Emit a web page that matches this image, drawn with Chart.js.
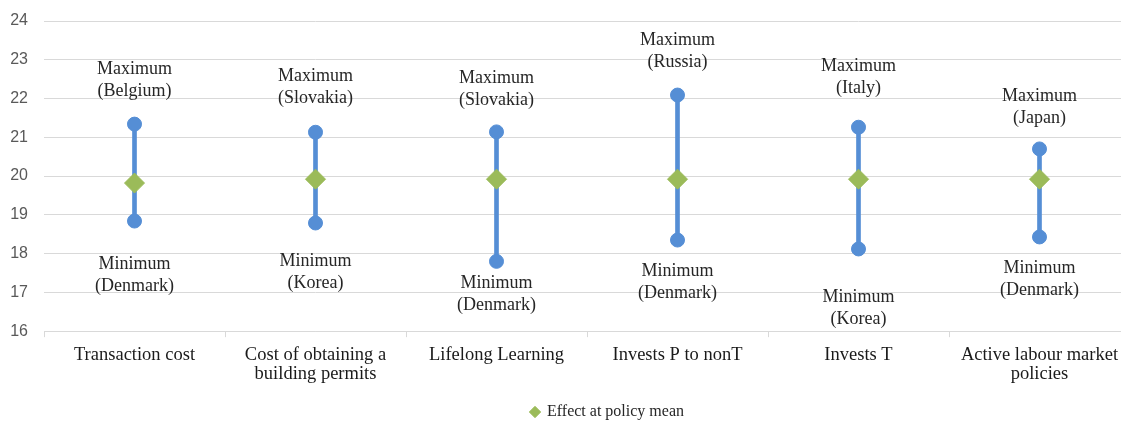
<!DOCTYPE html>
<html>
<head>
<meta charset="utf-8">
<script src="https://cdn.jsdelivr.net/npm/chart.js@4"></script>
<style>
  html, body { margin: 0; padding: 0; background: #fff; overflow: hidden; }
  #wrap { width: 1141px; height: 422px; }
</style>
</head>
<body>
<div id="wrap"><canvas id="rangeChart"></canvas></div>
<script>
const categories = [
  'Transaction cost',
  ['Cost of obtaining a', 'building permits'],
  'Lifelong Learning',
  'Invests P to nonT',
  'Invests T',
  ['Active labour market', 'policies']
];
const maxValues = [21.34, 21.13, 21.14, 22.09, 21.26, 20.70];
const minValues = [18.84, 18.79, 17.80, 18.35, 18.12, 18.43];
const meanValues = [19.82, 19.92, 19.92, 19.92, 19.92, 19.92];
const maxCountries = ['Belgium', 'Slovakia', 'Slovakia', 'Russia', 'Italy', 'Japan'];
const minCountries = ['Denmark', 'Korea', 'Denmark', 'Denmark', 'Korea', 'Denmark'];
const yTicks = [16, 17, 18, 19, 20, 21, 22, 23, 24];

const blue = '#558ed5';
const green = '#9bbb59';
const serif = "'Liberation Serif', 'Times New Roman', serif";

// gap in px between a point and its label, as placed by hand in the original
const maxGap = [33, 34, 32, 33, 39, 31];
const minGap = [43, 38, 22, 31, 48, 31];

// text "Maximum (x)" above the top point, "Minimum (x)" below the bottom one
const rangeLabels = {
  id: 'rangeLabels',
  afterDatasetsDraw(chart) {
    const c = chart.ctx;
    const maxMeta = chart.getDatasetMeta(1);
    const minMeta = chart.getDatasetMeta(2);
    c.save();
    c.font = '18px ' + serif;
    c.fillStyle = '#262626';
    c.textAlign = 'center';
    c.textBaseline = 'middle';
    maxMeta.data.forEach((pt, i) => {
      c.fillText('Maximum', pt.x, pt.y - maxGap[i] - 22);
      c.fillText('(' + maxCountries[i] + ')', pt.x, pt.y - maxGap[i]);
    });
    minMeta.data.forEach((pt, i) => {
      c.fillText('Minimum', pt.x, pt.y + minGap[i]);
      c.fillText('(' + minCountries[i] + ')', pt.x, pt.y + minGap[i] + 22);
    });
    c.restore();
  }
};

// the legend sits a bit right of centre and low in the original
const legendShift = {
  id: 'legendShift',
  afterLayout(chart) {
    const lg = chart.legend;
    lg.left += 37;
    lg.right += 37;
    lg.top += 8;
    lg.bottom += 8;
  }
};

new Chart(document.getElementById('rangeChart'), {
  data: {
    labels: categories,
    datasets: [
      {
        type: 'bar',
        label: 'Range',
        data: minValues.map((v, i) => [v, maxValues[i]]),
        backgroundColor: blue,
        barThickness: 4,
        order: 3
      },
      {
        type: 'line',
        label: 'Maximum',
        data: maxValues,
        showLine: false,
        pointRadius: 7,
        pointBackgroundColor: blue,
        pointBorderColor: blue,
        order: 2
      },
      {
        type: 'line',
        label: 'Minimum',
        data: minValues,
        showLine: false,
        pointRadius: 7,
        pointBackgroundColor: blue,
        pointBorderColor: blue,
        order: 2
      },
      {
        type: 'line',
        label: 'Effect at policy mean',
        data: meanValues,
        showLine: false,
        pointStyle: 'rectRot',
        pointRadius: 10,
        pointBackgroundColor: green,
        pointBorderColor: green,
        order: 1
      }
    ]
  },
  options: {
    responsive: true,
    maintainAspectRatio: false,
    animation: false,
    layout: { padding: 0 },
    plugins: {
      legend: {
        position: 'bottom',
        labels: {
          filter: item => item.text === 'Effect at policy mean',
          usePointStyle: true,
          pointStyle: 'rectRot',
          boxWidth: 8,
          boxHeight: 8,
          color: '#262626',
          font: { family: serif, size: 16 },
          padding: 4
        }
      },
      tooltip: { enabled: false }
    },
    scales: {
      x: {
        offset: true,
        grid: {
          offset: true,
          drawOnChartArea: false,
          drawTicks: true,
          tickLength: 6,
          color: '#d9d9d9'
        },
        border: { color: '#d9d9d9' },
        ticks: {
          color: '#1a1a1a',
          font: { family: serif, size: 18.5, lineHeight: 1.05 },
          padding: 8,
          maxRotation: 0
        }
      },
      y: {
        min: 16,
        max: 24,
        afterBuildTicks: axis => { axis.ticks = yTicks.map(v => ({ value: v })); },
        afterFit: axis => {
          axis.width = 44;
          axis.paddingTop = 21;
        },
        grid: { color: '#d9d9d9', drawTicks: false },
        border: { display: false },
        ticks: {
          color: '#595959',
          font: { family: "'Liberation Sans', Arial, sans-serif", size: 16 },
          padding: 16
        }
      }
    }
  },
  plugins: [rangeLabels, legendShift]
});
</script>
</body>
</html>
